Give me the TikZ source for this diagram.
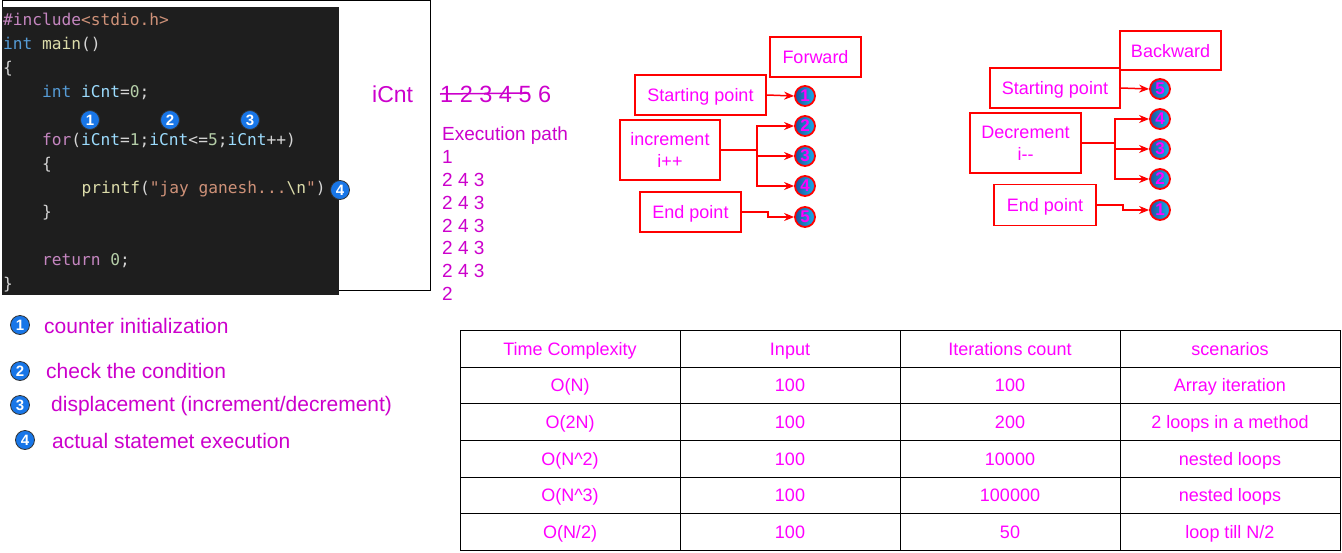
\documentclass[tikz,border=0pt]{standalone}
\usepackage{fontspec}
\setmainfont{Liberation Sans}
\setmonofont{DejaVu Sans Mono}
\usetikzlibrary{arrows.meta,calc}
\definecolor{mag}{RGB}{204,0,204}
\definecolor{bmag}{RGB}{255,0,255}
\definecolor{codebg}{RGB}{30,30,30}
\definecolor{ckw}{RGB}{197,134,192}
\definecolor{cty}{RGB}{86,156,214}
\definecolor{cfn}{RGB}{220,220,170}
\definecolor{cvar}{RGB}{156,220,254}
\definecolor{cnum}{RGB}{181,206,168}
\definecolor{cstr}{RGB}{206,145,120}
\definecolor{cpl}{RGB}{212,212,212}
\definecolor{badgeblue}{RGB}{24,118,232}
\definecolor{circblue}{RGB}{40,120,225}
\tikzset{
  codeline/.style={anchor=base west, inner sep=0pt, font=\ttfamily\fontsize{16.2}{18}\selectfont, text=cpl},
  badge/.style={circle, minimum size=19pt, inner sep=0pt, fill=badgeblue, draw=black!80, line width=0.8pt, text=white, font=\bfseries\fontsize{15}{15}\selectfont},
  redbox/.style={draw=red, line width=1.8pt, fill=white, align=center, text=bmag, font=\fontsize{18}{22}\selectfont, inner sep=0pt},
  redbox1/.style={redbox, text height=13pt, text depth=0pt},
  numc/.style={circle, minimum size=20pt, inner sep=0pt, left color=circblue!70!black, right color=circblue!60!cyan, draw=red, line width=1.8pt, text=bmag, font=\bfseries\fontsize{17}{17}\selectfont},
  arr/.style={draw=red, line width=1.5pt, -{Stealth[length=10pt,width=8pt]}},
  trunk/.style={draw=red, line width=2.8pt},
  magtxt/.style={text=mag, inner sep=0pt, anchor=west},
  cell/.style={text=bmag, font=\fontsize{18}{20}\selectfont, inner sep=0pt, anchor=base},
  legend/.style={magtxt, font=\fontsize{21}{24}\selectfont},
}
\begin{document}
\begin{tikzpicture}[x=1pt,y=-1pt]
\useasboundingbox (0,0) rectangle (1342,552);
\fill[white] (0,0) rectangle (1342,552);
% outer frame
\draw[black, line width=1pt] (2.5,0.5) rectangle (430,290.5);
% code box
\fill[codebg] (2,7) rectangle (339,295);
\node[codeline] (l1) at (3,25) {\textcolor{ckw}{\#include}\textcolor{cstr}{<stdio.h>}};
\node[codeline] (l2) at (3,49) {\textcolor{cty}{int} \textcolor{cfn}{main}()};
\node[codeline] (l3) at (3,73) {\{};
\node[codeline] (l4) at (42,97) {\textcolor{cty}{int} \textcolor{cvar}{iCnt}=\textcolor{cnum}{0};};
\node[codeline] (l6) at (42,145) {\textcolor{ckw}{for}(\textcolor{cvar}{iCnt}=\textcolor{cnum}{1};\textcolor{cvar}{iCnt}<=\textcolor{cnum}{5};\textcolor{cvar}{iCnt}++)};
\node[codeline] (l7) at (42,169) {\{};
\node[codeline] (l8) at (81.5,193) {\textcolor{cfn}{printf}(\textcolor{cstr}{"jay ganesh...}\textcolor{cfn}{\textbackslash n}\textcolor{cstr}{"})};
\node[codeline] (l9) at (42,217) {\}};
\node[codeline] (l11) at (42,265) {\textcolor{ckw}{return} \textcolor{cnum}{0};};
\node[codeline] (l12) at (3,289) {\}};
% code badges
\node[badge] (b1) at (90,120) {1};
\node[badge] (b2) at (170,120) {2};
\node[badge] (b3) at (250,120) {3};
\node[badge] (b4) at (340,190) {4};
% iCnt and values
\node[magtxt, font=\fontsize{23}{26}\selectfont] (icnt) at (372,94) {iCnt};
\node[magtxt, font=\fontsize{23.5}{26}\selectfont] (vals) at (440,94) {1 2 3 4 5 6};
\draw[mag, line width=1.5pt] ([xshift=0pt]vals.west) -- ++(89,-1);
% execution path
\node[magtxt, font=\fontsize{19}{22.8}\selectfont, align=left, anchor=north west] (ep) at (442,127) {Execution path\\1\\2 4 3\\2 4 3\\2 4 3\\2 4 3\\2 4 3\\2};
% legend
\node[badge] (lb1) at (20,325) {1};
\node[legend] (lt1) at (44,326) {counter initialization};
\node[badge] (lb2) at (20,371) {2};
\node[legend] (lt2) at (46,371) {check the condition};
\node[badge] (lb3) at (20,405) {3};
\node[legend] (lt3) at (51,406) {displacement (increment/decrement)};
\node[badge] (lb4) at (25,440) {4};
\node[legend] (lt4) at (52,441) {actual statemet execution};
% Forward diagram
\node[redbox1, minimum width=91pt, minimum height=40pt] (fw) at (815.5,57) {Forward};
\node[redbox1, minimum width=131pt, minimum height=40pt] (fs) at (700.5,95) {Starting point};
\node[redbox, minimum width=100pt, minimum height=60pt] (fi) at (670,150) {increment\\i++};
\node[redbox1, minimum width=101pt, minimum height=40pt] (fe) at (690.5,212) {End point};
\node[numc] (f1) at (805,96) {1};
\node[numc] (f2) at (805,126) {2};
\node[numc] (f3) at (805,156) {3};
\node[numc] (f4) at (805,186) {4};
\node[numc] (f5) at (805,217) {5};
\coordinate (fbr) at (757,150);
\coordinate (fj) at (768,212);
\draw[trunk] (fi.east) -- (fbr);
\draw[arr] (fs.east) -- (f1.west);
\draw[arr] (fi.east) -- (fbr) |- (f2.west);
\draw[arr] (fi.east) -- (fbr) |- (f3.west);
\draw[arr] (fi.east) -- (fbr) |- (f4.west);
\draw[arr] (fe.east) -- (fj) |- (f5.west);
% Backward diagram
\node[redbox1, minimum width=101pt, minimum height=39pt] (bw) at (1170.5,50.5) {Backward};
\node[redbox1, minimum width=130pt, minimum height=40pt] (bs) at (1055,88) {Starting point};
\node[redbox, minimum width=111pt, minimum height=60pt] (bd) at (1025.5,143) {Decrement\\i-{}-};
\node[redbox1, minimum width=102pt, minimum height=41pt] (be) at (1045,205) {End point};
\node[numc] (k5) at (1160,89) {5};
\node[numc] (k4) at (1160,119) {4};
\node[numc] (k3) at (1160,149) {3};
\node[numc] (k2) at (1160,179) {2};
\node[numc] (k1) at (1160,210) {1};
\coordinate (bbr) at (1115,143);
\coordinate (bj) at (1123,205);
\draw[trunk] (bd.east) -- (bbr);
\draw[arr] (bs.east) -- (k5.west);
\draw[arr] (bd.east) -- (bbr) |- (k4.west);
\draw[arr] (bd.east) -- (bbr) |- (k3.west);
\draw[arr] (bd.east) -- (bbr) |- (k2.west);
\draw[arr] (be.east) -- (bj) |- (k1.west);
% table
\draw[black, line width=1pt] (460,330) rectangle (1340,550);
\foreach \yy in {367,403.5,440,477,513.5} \draw[black, line width=1pt] (460,\yy) -- (1340,\yy);
\foreach \xx in {680,900,1120} \draw[black, line width=1pt] (\xx,330) -- (\xx,550);
\node[cell] (h1) at (570,355.5) {Time Complexity};
\node[cell] (h2) at (790,355.5) {Input};
\node[cell] (h3) at (1010,355.5) {Iterations count};
\node[cell] (h4) at (1230,355.5) {scenarios};
\node[cell] (r11) at (570,391.5) {O(N)};
\node[cell] (r12) at (790,391.5) {100};
\node[cell] (r13) at (1010,391.5) {100};
\node[cell] (r14) at (1230,391.5) {Array iteration};
\node[cell] (r21) at (570,428.5) {O(2N)};
\node[cell] (r22) at (790,428.5) {100};
\node[cell] (r23) at (1010,428.5) {200};
\node[cell] (r24) at (1230,428.5) {2 loops in a method};
\node[cell] (r31) at (570,465.5) {O(N\textasciicircum 2)};
\node[cell] (r32) at (790,465.5) {100};
\node[cell] (r33) at (1010,465.5) {10000};
\node[cell] (r34) at (1230,465.5) {nested loops};
\node[cell] (r41) at (570,501.5) {O(N\textasciicircum 3)};
\node[cell] (r42) at (790,501.5) {100};
\node[cell] (r43) at (1010,501.5) {100000};
\node[cell] (r44) at (1230,501.5) {nested loops};
\node[cell] (r51) at (570,538.5) {O(N/2)};
\node[cell] (r52) at (790,538.5) {100};
\node[cell] (r53) at (1010,538.5) {50};
\node[cell] (r54) at (1230,538.5) {loop till N/2};
\end{tikzpicture}
\end{document}
